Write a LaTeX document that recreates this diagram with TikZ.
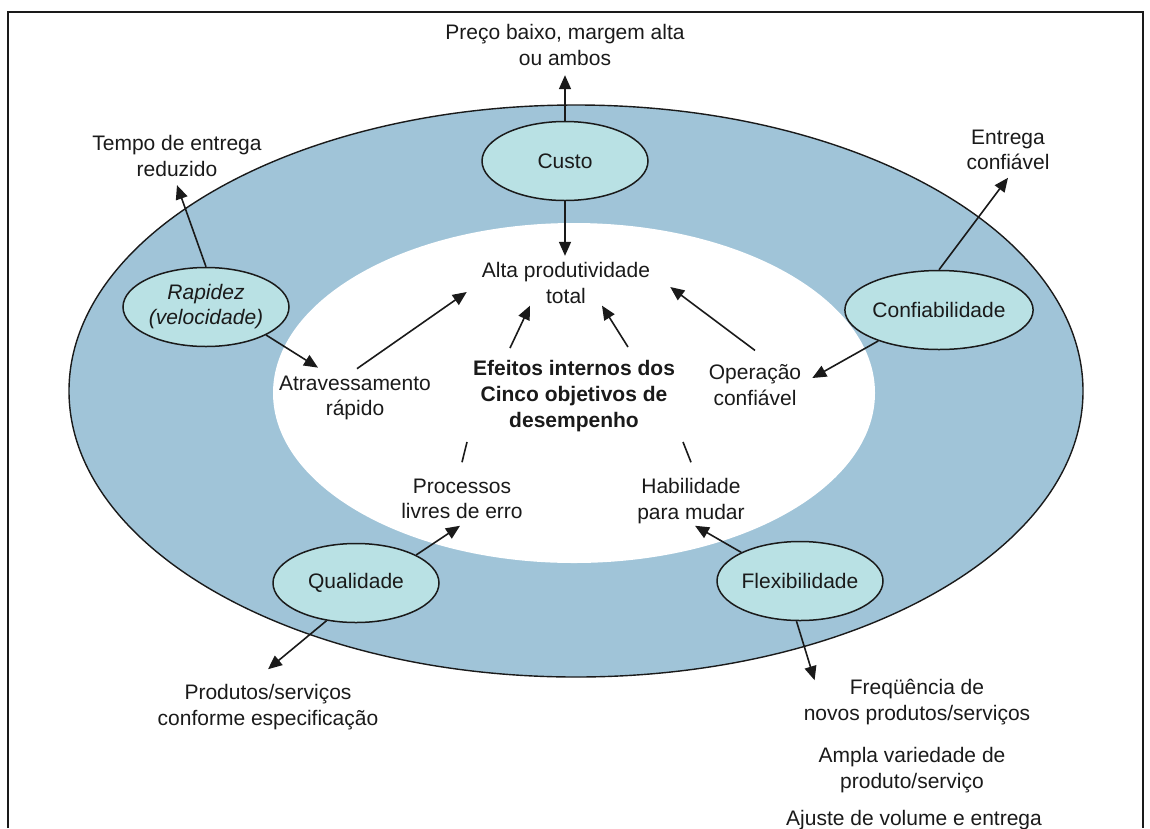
\documentclass[tikz,border=0pt]{standalone}
\usepackage{fontspec}
\setmainfont{Liberation Sans}
\usetikzlibrary{arrows.meta,shapes.geometric}

\definecolor{ringblue}{HTML}{A0C4D8}
\definecolor{objfill}{HTML}{B9E1E4}
\definecolor{ink}{HTML}{1A1A1A}

\tikzset{
  lbl/.style={align=center, inner sep=2pt, text=ink, font=\fontsize{21}{25.5}\selectfont},
  obj/.style={ellipse, draw=ink, line width=1.5pt, fill=objfill, minimum width=166pt,
    minimum height=79pt, inner sep=0pt, align=center, text=ink,
    font=\fontsize{21}{25}\selectfont},
  arr/.style={draw=ink, line width=1.6pt, -{Triangle[length=14pt,width=12pt]}},
  link/.style={draw=ink, line width=1.6pt},
}

\begin{document}
\begin{tikzpicture}[x=1pt,y=-1pt]
\useasboundingbox (0,0) rectangle (1150,828);

% frame, open at the bottom
\draw[line width=2.6pt, ink] (8,828) -- (8,12) -- (1143,12) -- (1143,828);

% outer ring and inner field
\filldraw[fill=ringblue, draw=ink, line width=1.4pt] (576,391) ellipse [x radius=507pt, y radius=286pt];
\fill[white] (574,393) ellipse [x radius=301pt, y radius=170pt];

% the five performance objectives
\node[obj] (custo) at (565,161) {Custo};
\node[obj, font=\fontsize{21}{25}\selectfont\itshape] (rapidez) at (206,307) {Rapidez\\(velocidade)};
\node[obj] (conf) at (939,310) {Confiabilidade};
\node[obj] (qual) at (356,583) {Qualidade};
\node[obj] (flex) at (800,581) {Flexibilidade};

% external effects
\node[lbl] (preco) at (565,45) {Preço baixo, margem alta\\ou ambos};
\node[lbl] (tempo) at (177,156) {Tempo de entrega\\reduzido};
\node[lbl] (entrega) at (1008,150) {Entrega\\confiável};
\node[lbl] (produtos) at (268,707) {Produtos/serviços\\conforme especificação};
\node[lbl] (freq) at (917,702) {Freqüência de\\novos produtos/serviços};
\node[lbl] (ampla) at (912,770) {Ampla variedade de\\produto/serviço};
\node[lbl] (ajuste) at (914,820) {Ajuste de volume e entrega};

% internal effects
\node[lbl] (alta) at (566,283) {Alta produtividade\\total};
\node[lbl] (atrav) at (355,398) {Atravessamento\\rápido};
\node[lbl, font=\fontsize{21}{26}\selectfont\bfseries] (efeitos) at (574,396)
  {Efeitos internos dos\\Cinco objetivos de\\desempenho};
\node[lbl] (oper) at (755,385) {Operação\\confiável};
\node[lbl] (proc) at (462,499) {Processos\\livres de erro};
\node[lbl] (habil) at (691,501) {Habilidade\\para mudar};

% Custo
\draw[arr] (custo.north) -- ([yshift=-7.5pt]preco.south);
\draw[arr] (custo.south) -- ([xshift=-1pt,yshift=4.5pt]alta.north);

% Rapidez
\draw[arr] (rapidez.north) -- ([yshift=-6.5pt]tempo.south);
\draw[arr] (rapidez.-25) -- ([xshift=-37pt,yshift=6pt]atrav.north);
\draw[arr] ([xshift=2pt,yshift=5pt]atrav.north) -- ([xshift=-13pt,yshift=-9pt]alta.west);

% Confiabilidade
\draw[arr] (conf.north) -- ([yshift=-5.5pt]entrega.south);
\draw[arr] (conf.207) -- ([xshift=9pt,yshift=7pt]oper.east);
\draw[arr] ([yshift=12pt]oper.north) -- ([xshift=18pt,yshift=-4pt]alta.east);

% centre text towards total productivity
\draw[arr] ([xshift=-64pt,yshift=10pt]efeitos.north) -- ([xshift=-36pt]alta.south);
\draw[arr] ([xshift=54pt,yshift=11pt]efeitos.north) -- ([xshift=36pt]alta.south);
\draw[link] ([yshift=14.5pt]proc.north) -- ([xshift=-107pt,yshift=-8pt]efeitos.south);
\draw[link] ([yshift=14pt]habil.north) -- ([xshift=109pt,yshift=-8pt]efeitos.south);

% Qualidade
\draw[arr] (qual.25) -- ([xshift=-2pt,yshift=-4.5pt]proc.south);
\draw[arr] (qual.232) -- ([yshift=13pt]produtos.north);

% Flexibilidade
\draw[arr] (flex.154) -- ([xshift=4pt,yshift=0pt]habil.south);
\draw[arr] (flex.-95) -- ([xshift=13pt,yshift=-3pt]freq.north west);
\end{tikzpicture}
\end{document}
